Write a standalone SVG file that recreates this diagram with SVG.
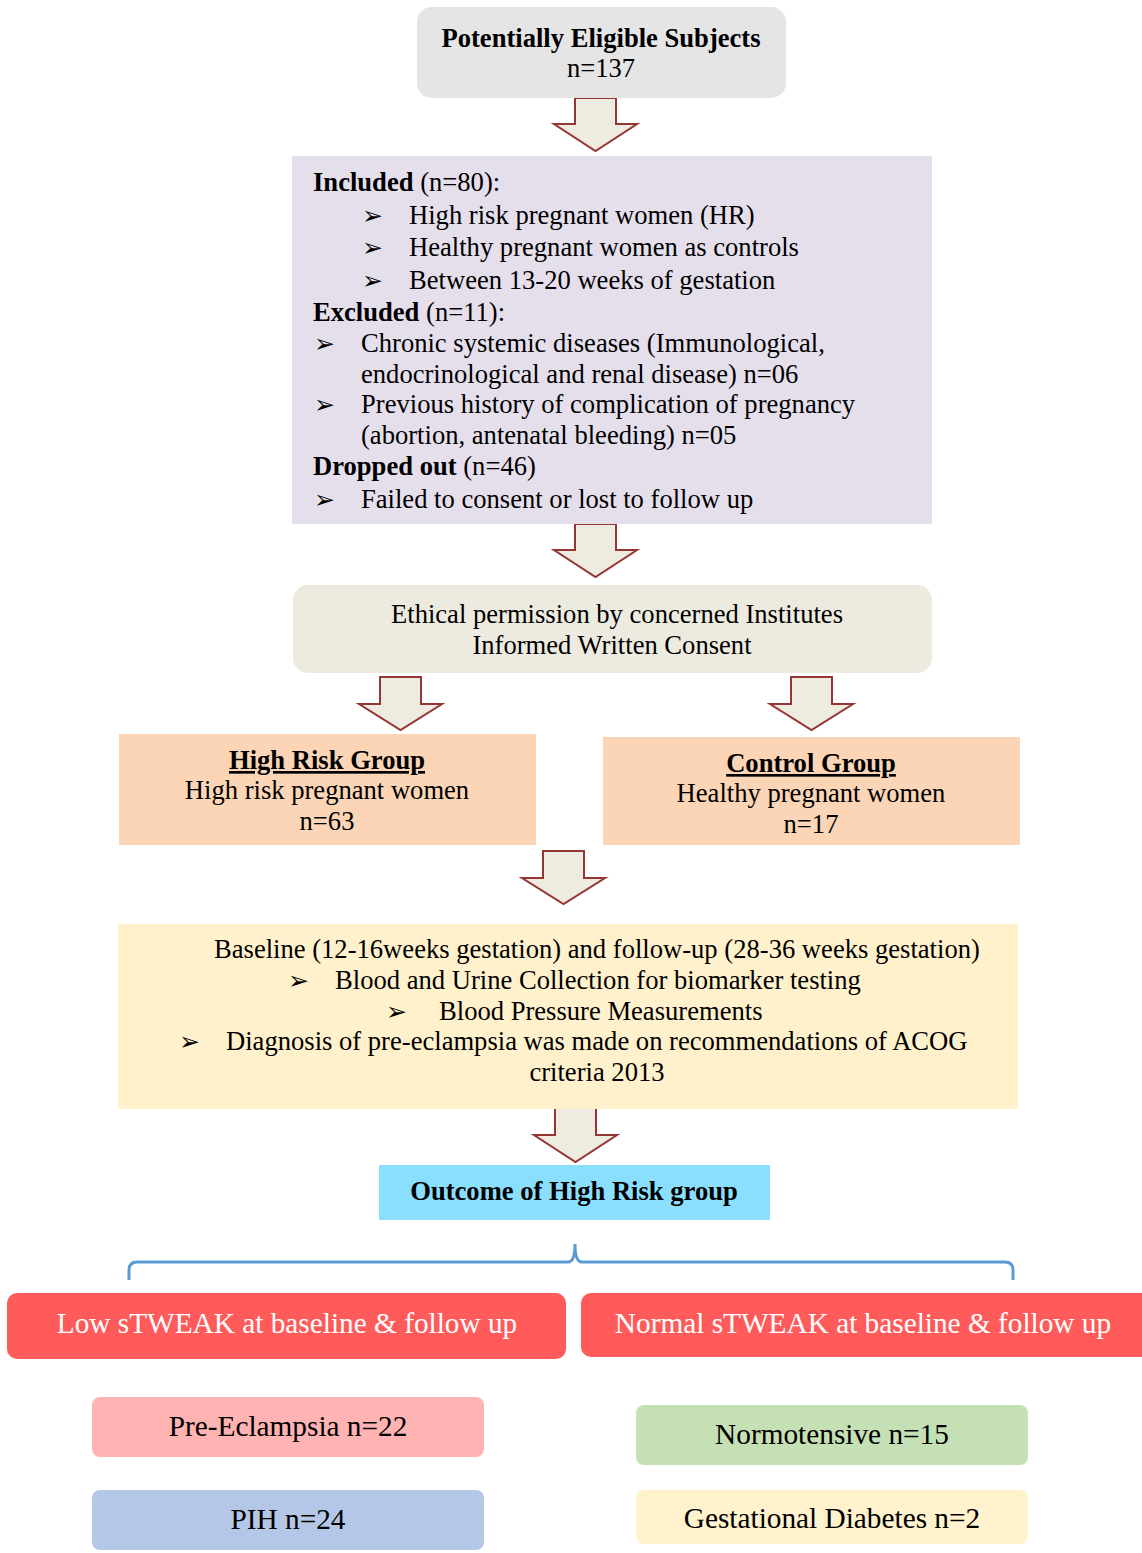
<svg xmlns="http://www.w3.org/2000/svg" width="1142" height="1553" viewBox="0 0 1142 1553">
<style>
text{font-family:"Liberation Serif","Times New Roman",serif;font-size:26.6px;fill:#000}
.b{font-weight:bold}
.c{text-anchor:middle}
.bul{font-family:"DejaVu Sans",sans-serif;font-size:25px}
.w{fill:#fff;font-size:29.3px}
.arr{fill:#EEEBE0;stroke:#943634;stroke-width:2}
.big{font-size:29.3px}
</style>
<rect width="1142" height="1553" fill="#fff"/>
<g id="connectors">
<path class="arr" d="M575,98 H616 V124 H637 L595.5,151 L554,124 H575 Z"/>
<path class="arr" d="M575,524 H616 V550 H637 L595.5,577 L554,550 H575 Z"/>
<path class="arr" d="M380,677 H421 V704 H442 L400.5,730 L359,704 H380 Z"/>
<path class="arr" d="M791,677 H832 V704 H853 L811.5,730 L770,704 H791 Z"/>
<path class="arr" d="M543,851 H584 V878 H605 L563.5,904 L522,878 H543 Z"/>
<path class="arr" d="M555,1108 H596 V1135 H617 L575.5,1162 L534,1135 H555 Z"/>
<path d="M129,1280 V1270 Q129,1262 137,1262 H568 Q575,1262 575,1244 Q575,1262 582,1262 H1005 Q1013,1262 1013,1270 V1280" fill="none" stroke="#5B9BD5" stroke-width="3"/>
</g>
<g id="eligible">
<rect x="417" y="7" width="369" height="91" rx="15" fill="#E5E5E5"/>
<text class="b c" x="601" y="47">Potentially Eligible Subjects</text>
<text class="c" x="601" y="77">n=137</text>
</g>
<g id="criteria">
<rect x="292" y="156" width="640" height="368" fill="#E5DFEC"/>
<text x="313" y="191"><tspan class="b">Included</tspan> (n=80):</text>
<text class="bul" x="362" y="224">➢</text><text x="409" y="224">High risk pregnant women (HR)</text>
<text class="bul" x="362" y="256">➢</text><text x="409" y="256">Healthy pregnant women as controls</text>
<text class="bul" x="362" y="289">➢</text><text x="409" y="289">Between 13-20 weeks of gestation</text>
<text x="313" y="321"><tspan class="b">Excluded</tspan> (n=11):</text>
<text class="bul" x="314" y="352">➢</text><text x="361" y="352">Chronic systemic diseases (Immunological,</text>
<text x="361" y="383">endocrinological and renal disease) n=06</text>
<text class="bul" x="314" y="413">➢</text><text x="361" y="413">Previous history of complication of pregnancy</text>
<text x="361" y="444">(abortion, antenatal bleeding) n=05</text>
<text x="313" y="475"><tspan class="b">Dropped out</tspan> (n=46)</text>
<text class="bul" x="314" y="508">➢</text><text x="361" y="508">Failed to consent or lost to follow up</text>
</g>
<g id="ethics">
<rect x="293" y="585" width="639" height="88" rx="15" fill="#EDEBE0"/>
<text class="c" x="617" y="623">Ethical permission by concerned Institutes</text>
<text class="c" x="612" y="654">Informed Written Consent</text>
</g>
<g id="high-risk">
<rect x="119" y="734" width="417" height="111" fill="#FBD5B5"/>
<text class="b c" x="327" y="769" text-decoration="underline">High Risk Group</text>
<text class="c" x="327" y="799">High risk pregnant women</text>
<text class="c" x="327" y="830">n=63</text>
</g>
<g id="control">
<rect x="603" y="737" width="417" height="108" fill="#FBD5B5"/>
<text class="b c" x="811" y="772" text-decoration="underline">Control Group</text>
<text class="c" x="811" y="802">Healthy pregnant women</text>
<text class="c" x="811" y="833">n=17</text>
</g>
<g id="baseline">
<rect x="118" y="924" width="900" height="185" fill="#FFF1CC"/>
<text x="214" y="958">Baseline (12-16weeks gestation) and follow-up (28-36 weeks gestation)</text>
<text class="bul" x="288" y="989">➢</text><text x="335" y="989">Blood and Urine Collection for biomarker testing</text>
<text class="bul" x="386" y="1020">➢</text><text x="439" y="1020">Blood Pressure Measurements</text>
<text class="bul" x="179" y="1050">➢</text><text x="226" y="1050">Diagnosis of pre-eclampsia was made on recommendations of ACOG</text>
<text class="c" x="597" y="1081">criteria 2013</text>
</g>
<g id="outcome">
<rect x="379" y="1165" width="391" height="55" fill="#8ADFFF"/>
<text class="b c" x="574" y="1200">Outcome of High Risk group</text>
</g>
<g id="low">
<rect x="7" y="1293" width="559" height="66" rx="10" fill="#FF5B5B"/>
<text class="w c" x="287" y="1333">Low sTWEAK at baseline &amp; follow up</text>
</g>
<g id="normal">
<rect x="581" y="1293" width="570" height="64" rx="10" fill="#FF5B5B"/>
<text class="w c" x="863" y="1333">Normal sTWEAK at baseline &amp; follow up</text>
</g>
<g id="pre-eclampsia">
<rect x="92" y="1397" width="392" height="60" rx="8" fill="#FFB3B3"/>
<text class="big c" x="288" y="1436">Pre-Eclampsia n=22</text>
</g>
<g id="pih">
<rect x="92" y="1490" width="392" height="60" rx="8" fill="#B4C7E7"/>
<text class="big c" x="288" y="1529">PIH n=24</text>
</g>
<g id="normotensive">
<rect x="636" y="1405" width="392" height="60" rx="8" fill="#C5E0B4"/>
<text class="big c" x="832" y="1444">Normotensive n=15</text>
</g>
<g id="gdm">
<rect x="636" y="1490" width="392" height="54" rx="8" fill="#FFF2CC"/>
<text class="big c" x="832" y="1528">Gestational Diabetes n=2</text>
</g>
</svg>
